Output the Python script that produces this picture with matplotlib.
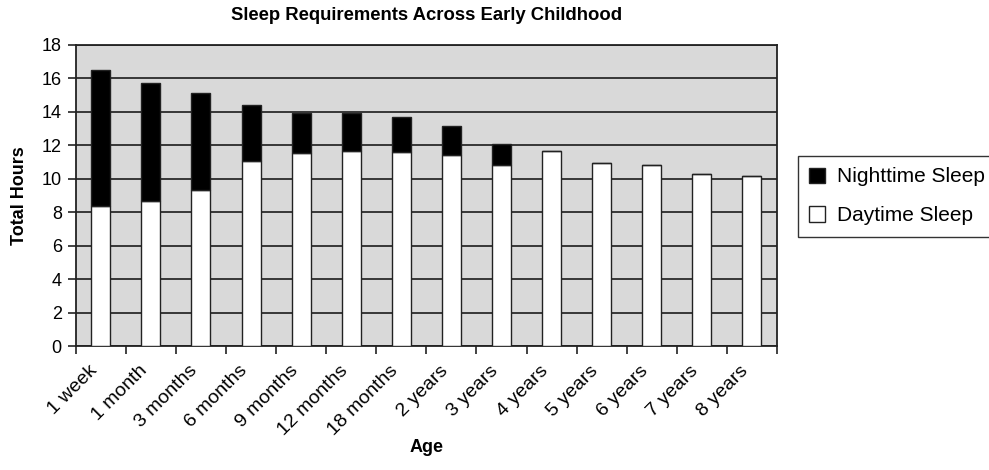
import matplotlib
matplotlib.use("Agg")
import matplotlib.pyplot as plt
import matplotlib.transforms as mtransforms
import numpy as np
from matplotlib.patches import Patch

plt.rcParams['font.family'] = ['Liberation Sans', 'DejaVu Sans']

ages = ["1 week", "1 month", "3 months", "6 months", "9 months", "12 months",
        "18 months", "2 years", "3 years", "4 years", "5 years", "6 years",
        "7 years", "8 years"]
daytime = [8.4, 8.7, 9.3, 11.05, 11.55, 11.65, 11.6, 11.4, 10.8, 11.65, 10.95, 10.8, 10.3, 10.15]
nighttime = [8.1, 7.0, 5.8, 3.35, 2.35, 2.25, 2.1, 1.75, 1.3, 0, 0, 0, 0, 0]
yticks = list(range(0, 20, 2))

fig = plt.figure(figsize=(9.89, 4.70), dpi=100)
ax = fig.add_axes([75.7/989, 1-346.3/470, (777-75.7)/989, (346.3-44.7)/470])
ax.set_facecolor("#d9d9d9")

x = np.arange(len(ages)) + 0.5
w = 0.38
ax.bar(x, daytime, width=w, color="white", edgecolor="#222222", linewidth=1.0, zorder=3)
ax.bar(x, nighttime, width=w, bottom=daytime, color="black", edgecolor="#222222", linewidth=1.0, zorder=3)

ax.set_xlim(0, len(ages))
ax.set_ylim(0, 18)
ax.set_yticks(yticks)
ax.yaxis.grid(True, color="#2a2a2a", linewidth=1.3, zorder=1)
ax.set_axisbelow(True)

ax.set_xticks(x)
ax.set_xticklabels(ages, rotation=45, ha="right", va="top", rotation_mode="anchor")
ax.set_xticks(np.arange(len(ages) + 1), minor=True)
ax.tick_params(axis="x", which="major", length=0, pad=8, labelsize=14)
ax.tick_params(axis="x", which="minor", length=6, width=1.2, direction="out", color="#222222")
ax.tick_params(axis="y", length=6, width=1.2, direction="out", color="#222222", labelsize=13, pad=4)
offset = mtransforms.ScaledTranslation(-12/100, -5/100, fig.dpi_scale_trans)
for lab in ax.get_xticklabels():
    lab.set_transform(lab.get_transform() + offset)
for s in ax.spines.values():
    s.set_color("#222222")
    s.set_linewidth(1.3)

ax.set_title("Sleep Requirements Across Early Childhood", fontsize=13.3, fontweight="bold", pad=18)
ax.set_ylabel("Total Hours", fontsize=13, fontweight="bold", labelpad=10)
ax.set_xlabel("Age", fontsize=13, fontweight="bold", labelpad=0)

handles = [Patch(facecolor="black", edgecolor="#222222", label="Nighttime Sleep"),
           Patch(facecolor="white", edgecolor="#222222", label="Daytime Sleep")]
leg = fig.legend(handles=handles, loc="upper left", bbox_to_anchor=(798/989, 1-156/470),
                 frameon=True, fancybox=False, fontsize=15, handlelength=0.75, handleheight=0.75,
                 handletextpad=0.55, labelspacing=0.95, borderpad=0.55, borderaxespad=0)
leg.get_frame().set_edgecolor("black")
leg.get_frame().set_linewidth(1.0)

fig.savefig("out.png", dpi=100)
